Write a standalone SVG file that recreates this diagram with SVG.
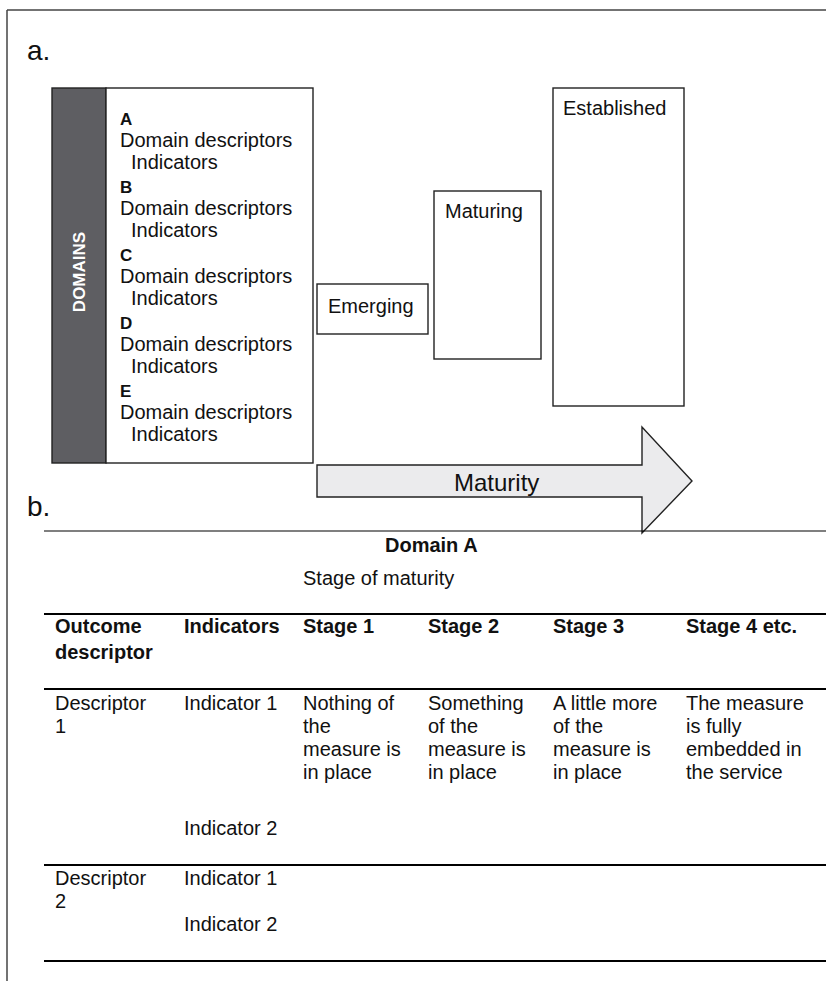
<svg xmlns="http://www.w3.org/2000/svg" width="826" height="981" viewBox="0 0 826 981">
<style>
  text { font-family: "Liberation Sans", Arial, sans-serif; fill: #111; }
  .t20 { font-size: 20px; }
  .b16 { font-size: 17px; font-weight: bold; }
  .b20 { font-size: 20px; font-weight: bold; }
  .lbl { font-size: 28px; }
  .box { fill: #fff; stroke: #222; stroke-width: 1.4; }
  .rule { stroke: #000; stroke-width: 2.2; }
  .thin { stroke: #000; stroke-width: 1.2; }
</style>
<rect width="826" height="981" fill="#fff"/>
<g id="frame">
  <line x1="7" y1="10" x2="826" y2="10" stroke="#444" stroke-width="1.5"/>
  <line x1="7" y1="10" x2="7" y2="981" stroke="#444" stroke-width="1.5"/>
</g>
<text class="lbl" x="27" y="60">a.</text>
<text class="lbl" x="27" y="516">b.</text>

<g id="domains">
  <rect x="52" y="88" width="54" height="375" fill="#5e5e62" stroke="#222" stroke-width="1.4"/>
  <rect class="box" x="106" y="88" width="207" height="375"/>
  <text transform="translate(85,272) rotate(-90)" text-anchor="middle" style="font-size:17px;font-weight:bold;fill:#fff">DOMAINS</text>
  <text class="b16" x="120" y="125">A</text>
  <text class="t20" x="120" y="147">Domain descriptors</text>
  <text class="t20" x="131" y="169">Indicators</text>
  <text class="b16" x="120" y="193">B</text>
  <text class="t20" x="120" y="215">Domain descriptors</text>
  <text class="t20" x="131" y="237">Indicators</text>
  <text class="b16" x="120" y="261">C</text>
  <text class="t20" x="120" y="283">Domain descriptors</text>
  <text class="t20" x="131" y="305">Indicators</text>
  <text class="b16" x="120" y="329">D</text>
  <text class="t20" x="120" y="351">Domain descriptors</text>
  <text class="t20" x="131" y="373">Indicators</text>
  <text class="b16" x="120" y="397">E</text>
  <text class="t20" x="120" y="419">Domain descriptors</text>
  <text class="t20" x="131" y="441">Indicators</text>
</g>

<g id="emerging">
  <rect class="box" x="317" y="284" width="111" height="50"/>
  <text class="t20" x="328" y="313">Emerging</text>
</g>
<g id="maturing">
  <rect class="box" x="434" y="191" width="107" height="168"/>
  <text class="t20" x="445" y="218">Maturing</text>
</g>
<g id="established">
  <rect class="box" x="553" y="88" width="131" height="318"/>
  <text class="t20" x="563" y="115">Established</text>
</g>

<g id="connectors">
  <path d="M317,465 L642,465 L642,427 L692,481 L642,533 L642,497 L317,497 Z" fill="#ebebed" stroke="#222" stroke-width="1.4" stroke-linejoin="miter"/>
</g>
<text x="454" y="491" style="font-size:24px">Maturity</text>

<g id="table">
  <line class="thin" x1="44" y1="531" x2="826" y2="531"/>
  <text class="b20" x="385" y="552">Domain A</text>
  <text class="t20" x="303" y="585">Stage of maturity</text>
  <line class="rule" x1="44" y1="614" x2="826" y2="614"/>
  <text class="b20" x="55" y="633">Outcome</text>
  <text class="b20" x="55" y="659">descriptor</text>
  <text class="b20" x="184" y="633">Indicators</text>
  <text class="b20" x="303" y="633">Stage 1</text>
  <text class="b20" x="428" y="633">Stage 2</text>
  <text class="b20" x="553" y="633">Stage 3</text>
  <text class="b20" x="686" y="633">Stage 4 etc.</text>
  <line class="rule" x1="44" y1="689" x2="826" y2="689"/>

  <text class="t20" x="55" y="710">Descriptor</text>
  <text class="t20" x="55" y="733">1</text>
  <text class="t20" x="184" y="710">Indicator 1</text>
  <text class="t20" x="303" y="710">Nothing of</text>
  <text class="t20" x="303" y="733">the</text>
  <text class="t20" x="303" y="756">measure is</text>
  <text class="t20" x="303" y="779">in place</text>
  <text class="t20" x="428" y="710">Something</text>
  <text class="t20" x="428" y="733">of the</text>
  <text class="t20" x="428" y="756">measure is</text>
  <text class="t20" x="428" y="779">in place</text>
  <text class="t20" x="553" y="710">A little more</text>
  <text class="t20" x="553" y="733">of the</text>
  <text class="t20" x="553" y="756">measure is</text>
  <text class="t20" x="553" y="779">in place</text>
  <text class="t20" x="686" y="710">The measure</text>
  <text class="t20" x="686" y="733">is fully</text>
  <text class="t20" x="686" y="756">embedded in</text>
  <text class="t20" x="686" y="779">the service</text>
  <text class="t20" x="184" y="835">Indicator 2</text>
  <line class="rule" x1="44" y1="865" x2="826" y2="865"/>

  <text class="t20" x="55" y="885">Descriptor</text>
  <text class="t20" x="55" y="908">2</text>
  <text class="t20" x="184" y="885">Indicator 1</text>
  <text class="t20" x="184" y="931">Indicator 2</text>
  <line class="rule" x1="44" y1="961" x2="826" y2="961"/>
</g>
</svg>
